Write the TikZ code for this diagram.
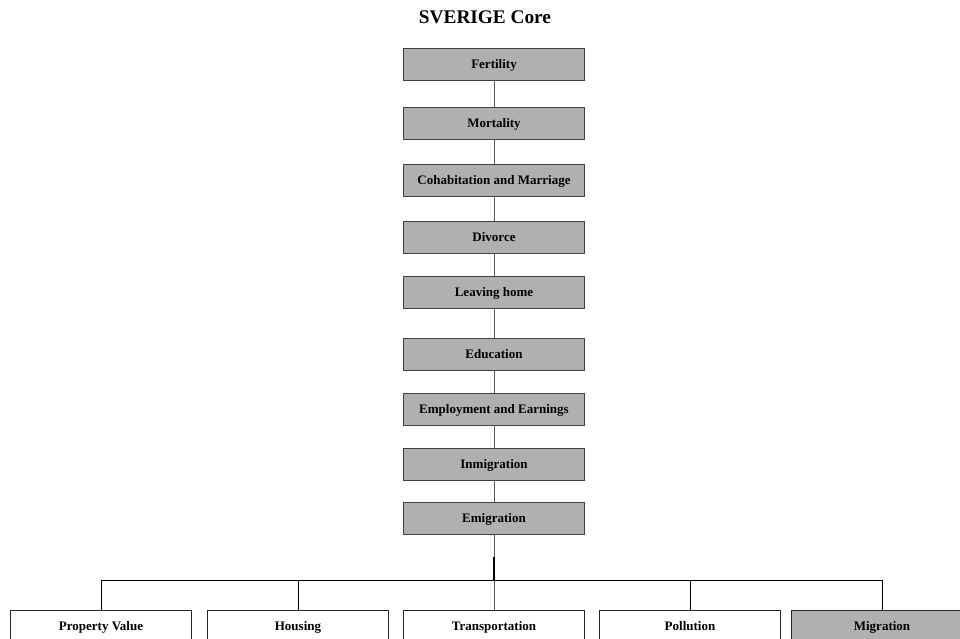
\documentclass[tikz,border=0pt]{standalone}
\usepackage{fontspec}
\setmainfont{Liberation Serif}
\begin{document}
\begin{tikzpicture}[x=1pt, y=-1pt,
  svcore/.style = {draw=black!75, line width=0.9pt, fill=black!31,
    minimum width=181pt, minimum height=32pt, inner sep=0pt,
    text height=10.5pt, text depth=1.5pt,
    font=\fontsize{13}{15}\selectfont\bfseries},
  svmod/.style = {svcore, fill=white, draw=black!85, line width=0.7pt},
  svlink/.style = {black!65, line width=0.8pt},
  svbus/.style = {black, line width=0.7pt},
  svtitle/.style = {font=\fontsize{19.3}{22}\selectfont\bfseries}
]
  \useasboundingbox (0,0) rectangle (960,639);
  % title
  \node[svtitle] (title) at (485,17) {SVERIGE Core};
  % core chain
  \foreach \y/\nm/\txt in {64/fert/Fertility, 123/mort/Mortality,
      180/cohab/Cohabitation and Marriage, 237/divo/Divorce,
      292/leave/Leaving home, 354/educ/Education,
      409/empl/Employment and Earnings, 464/inmig/Inmigration,
      518/emig/Emigration} {
    \node[svcore] (\nm) at (494,\y) {\txt};
  }
  \foreach \a/\b in {fert/mort, mort/cohab, cohab/divo, divo/leave,
      leave/educ, educ/empl, empl/inmig, inmig/emig} {
    \draw[svlink] (\a) -- (\b);
  }
  % modules
  \node[svmod] (propv) at (101,626) {Property Value};
  \node[svmod] (house) at (298,626) {Housing};
  \node[svmod] (transp) at (494,626) {Transportation};
  \node[svmod] (pollu) at (690,626) {Pollution};
  \node[svmod, fill=black!31] (migr) at (882,626) {Migration};
  % bus
  \coordinate (hubtop) at (494,557);
  \coordinate (hub) at (494,580);
  \draw[svlink] (emig) -- (hub);
  \draw[svbus, line width=1.4pt] (hubtop) -- (hub);
  \draw[svbus] (hub) -| (propv.north);
  \draw[svbus] (hub) -| (house.north);
  \draw[svlink] (hub) -- (transp.north);
  \draw[svbus] (hub) -| (pollu.north);
  \draw[svbus] (hub) -| (migr.north);
\end{tikzpicture}
\end{document}
